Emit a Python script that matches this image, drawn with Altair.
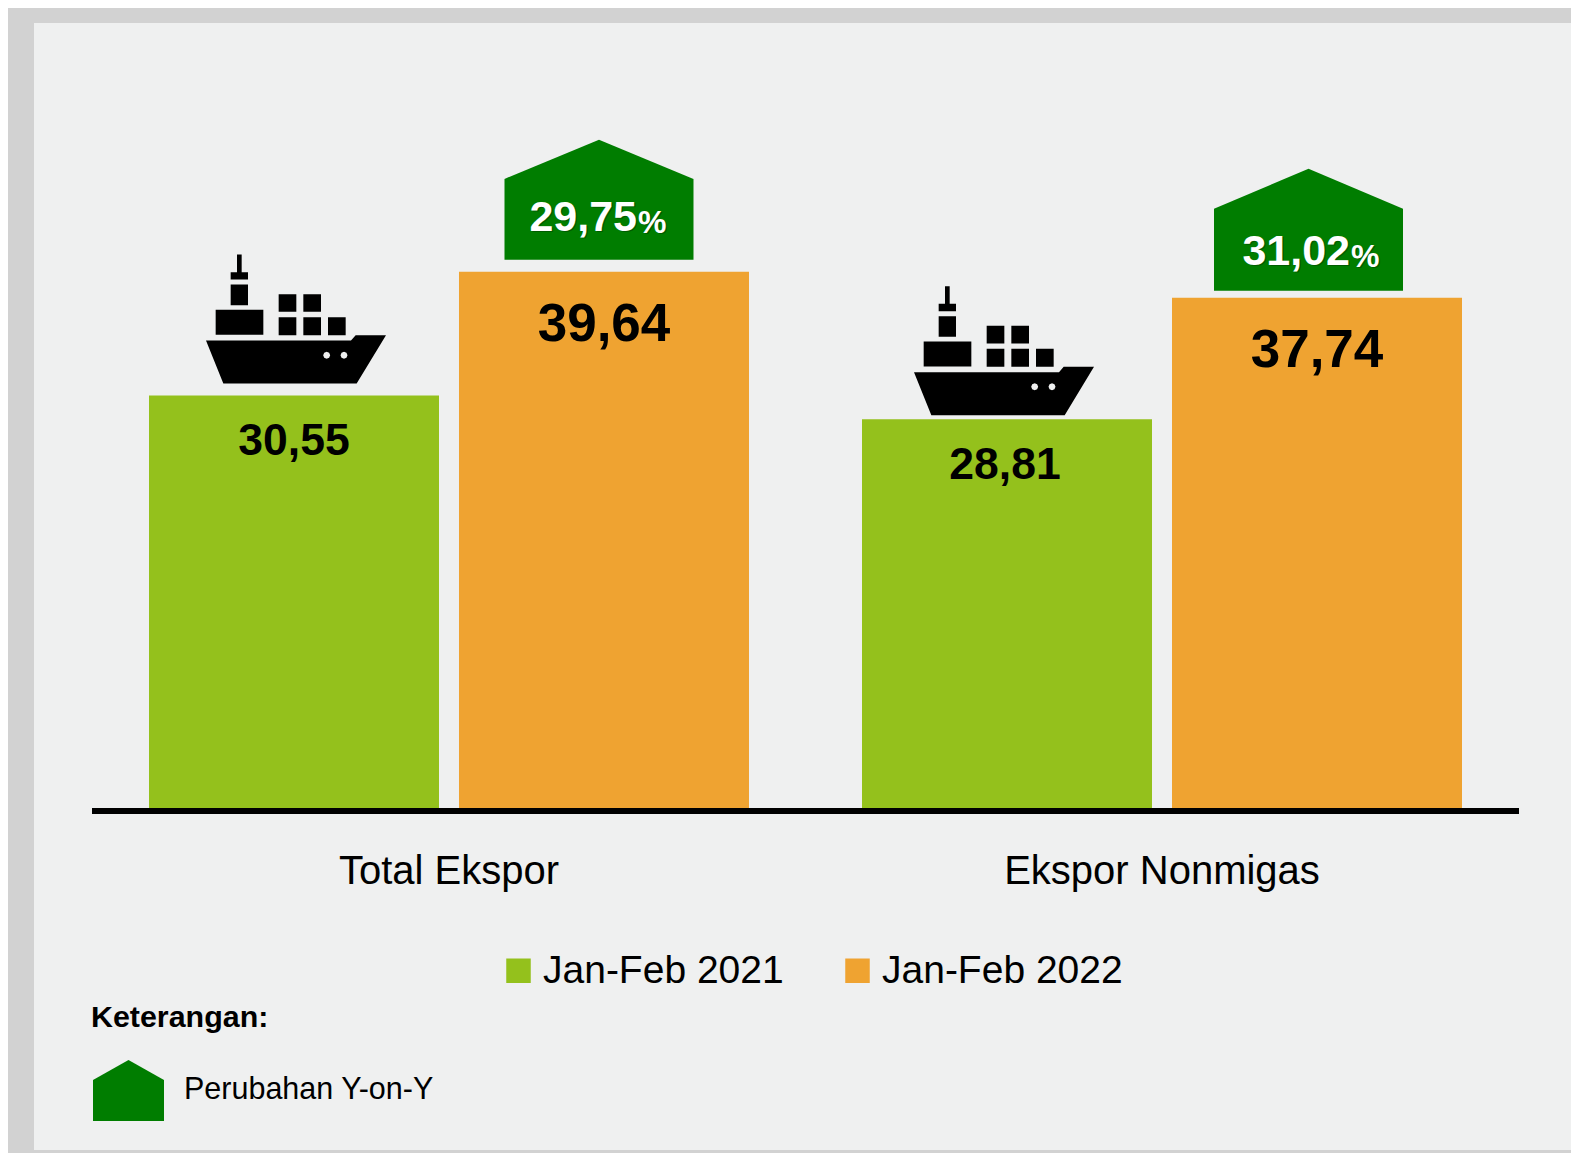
import altair as alt
import pandas as pd

categories = ["Total Ekspor", "Ekspor Nonmigas"]
series = ["Jan-Feb 2021", "Jan-Feb 2022"]
values_2021 = [30.55, 28.81]
values_2022 = [39.64, 37.74]
changes = ["29,75", "31,02"]

FONT = "Liberation Sans"
GREEN, ORANGE, BADGE = "#94C11C", "#EFA331", "#007D00"
PANEL, FRAME = "#EFF0F0", "#D2D2D2"


def fmt(v):
    return f"{v:.2f}".replace(".", ",")


rows = []
for i, c in enumerate(categories):
    rows.append({"cat": c, "series": series[0], "value": values_2021[i], "label": fmt(values_2021[i])})
    rows.append({"cat": c, "series": series[1], "value": values_2022[i], "label": fmt(values_2022[i])})
df = pd.DataFrame(rows)

PW, PH = 1537, 1127
x_enc = alt.X("cat:N", title=None, sort=categories,
              scale=alt.Scale(domain=categories, range=[115, 1428], paddingInner=0.1585, paddingOuter=0),
              axis=alt.Axis(orient="bottom", offset=-337, domain=False, ticks=False, labelAngle=0,
                            labelFont=FONT, labelFontSize=40, labelColor="#000000", labelPadding=38,
                            labelLimit=500, grid=False))
xo_enc = alt.XOffset("series:N", sort=series,
                     scale=alt.Scale(domain=series, paddingInner=0.0645, paddingOuter=0))
y_enc = alt.Y("value:Q", title=None, axis=None,
              scale=alt.Scale(domain=[-24.93, 57.94], nice=False, zero=False))


def poly(points):
    return "M" + " L".join(f"{x:.4f},{y:.4f}" for x, y in points) + " Z"


def ship_path(dx, gap):
    cx, by, unit = 348, 432, 90.0

    def p(zx, zy):
        return ((zx - cx) / 3 + dx) / unit, ((zy - by) / 3 - gap) / unit

    def rect(a, b, c, d):
        return poly([p(a, b), p(c, b), p(c, d), p(a, d)])

    hull = poly([p(78, 303), p(513, 303), p(527, 287), p(618, 287), p(530, 432), p(130, 432)])
    parts = [hull]
    for hx in (440, 492):
        r, k = 10.5, 7.4
        parts.append(poly([p(hx + r, 347), p(hx + k, 347 - k), p(hx, 347 - r), p(hx - k, 347 - k),
                           p(hx - r, 347), p(hx - k, 347 + k), p(hx, 347 + r), p(hx + k, 347 + k)]))
    for box in [(296, 164, 349, 217), (370, 164, 423, 217), (296, 233, 349, 287), (370, 233, 423, 287),
                (444, 233, 497, 287), (107, 211, 250, 286), (152, 135, 204, 197), (152, 98, 204, 120),
                (171, 45, 185, 100)]:
        parts.append(rect(*box))
    return " ".join(parts)


def badge_path(dx, gap, body, roof):
    u = 94.5
    l, r = (dx - u) / u, (dx + u) / u
    return poly([(l, -(gap + body) / u), (dx / u, -(gap + body + roof) / u), (r, -(gap + body) / u),
                 (r, -gap / u), (l, -gap / u)])


bars = alt.Chart(df).mark_bar(stroke=None).encode(
    x=x_enc, xOffset=xo_enc, y=y_enc,
    color=alt.Color("series:N", sort=series, title=None,
                    scale=alt.Scale(domain=series, range=[GREEN, ORANGE]),
                    legend=alt.Legend(orient="none", legendX=465, legendY=928, columns=2, symbolType="square",
                                      symbolSize=600, symbolStrokeWidth=0, labelFont=FONT, labelFontSize=39,
                                      labelColor="#000000", labelLimit=400, columnPadding=54, labelOffset=5,
                                      padding=0, title=None)),
)

layers = [bars]
ship_geo = [(2, 12), (-3, 4)]
badge_geo = [(-5, 12, 81, 39), (-8.5, 7, 82, 40)]
val_dy = {(0, 0): 47, (0, 1): 53, (1, 0): 47, (1, 1): 53}
chg_dy = [-54, -46]

for i, c in enumerate(categories):
    d0 = df[(df.cat == c) & (df.series == series[0])]
    d1 = df[(df.cat == c) & (df.series == series[1])].assign(change=changes[i], pct="%")
    layers.append(alt.Chart(d0).mark_point(shape=ship_path(*ship_geo[i]), size=32400, filled=True, opacity=1,
                                           color="#000000", strokeWidth=0)
                  .encode(x=x_enc, xOffset=xo_enc, y=y_enc))
    layers.append(alt.Chart(d1).mark_point(shape=badge_path(*badge_geo[i]), size=35721, filled=True, opacity=1,
                                           color=BADGE, strokeWidth=0)
                  .encode(x=x_enc, xOffset=xo_enc, y=y_enc))
    layers.append(alt.Chart(d0).mark_text(font=FONT, fontWeight="bold", fontSize=44.5, color="#000000",
                                          dy=val_dy[(i, 0)], baseline="middle", dx=-2 if i else 0)
                  .encode(x=x_enc, xOffset=xo_enc, y=y_enc, text="label:N"))
    layers.append(alt.Chart(d1).mark_text(font=FONT, fontWeight="bold", fontSize=53, color="#000000",
                                          dy=val_dy[(i, 1)], baseline="middle")
                  .encode(x=x_enc, xOffset=xo_enc, y=y_enc, text="label:N"))
    for col, off in (("#00480099", 1.5), ("#FFFFFF", 0)):
        layers.append(alt.Chart(d1).mark_text(font=FONT, fontWeight="bold", fontSize=43, color=col, align="right",
                                              baseline="middle", dx=33 + off, dy=chg_dy[i] + off)
                      .encode(x=x_enc, xOffset=xo_enc, y=y_enc, text="change:N"))
        layers.append(alt.Chart(d1).mark_text(font=FONT, fontWeight="bold", fontSize=32, color=col, align="left",
                                              baseline="middle", dx=34 + off, dy=chg_dy[i] + 5 + off)
                      .encode(x=x_enc, xOffset=xo_enc, y=y_enc, text="pct:N"))

base_df = pd.DataFrame({"value": [0]})
layers.append(alt.Chart(base_df).mark_rule(color="#000000", strokeWidth=6).encode(
    x=alt.value(58), x2=alt.value(1485), y=alt.Y("value:Q", title=None, axis=None,
                                                  scale=alt.Scale(domain=[-24.93, 57.94], nice=False, zero=False))))

note_df = pd.DataFrame({"title": ["Keterangan:"], "item": ["Perubahan Y-on-Y"]})
layers.append(alt.Chart(note_df).mark_text(font=FONT, fontWeight="bold", fontSize=30.4, color="#000000", align="left",
                                           baseline="middle").encode(
    x=alt.value(57), y=alt.value(995), text="title:N"))
layers.append(alt.Chart(note_df).mark_text(font=FONT, fontSize=30.5, color="#000000", align="left",
                                           baseline="middle").encode(
    x=alt.value(150), y=alt.value(1067), text="item:N"))
lu = 35.5
layers.append(alt.Chart(note_df).mark_point(
    shape=poly([(-1, -10 / lu), (0, -30 / lu), (1, -10 / lu), (1, 31 / lu), (-1, 31 / lu)]),
    size=(2 * lu) ** 2, filled=True, opacity=1, color=BADGE, strokeWidth=0).encode(
    x=alt.value(94.5), y=alt.value(1067)))

chart = alt.layer(*layers).properties(
    width=PW, height=PH,
    background=FRAME,
    padding={"left": 26, "top": 15, "right": 0, "bottom": 3},
    autosize=alt.AutoSizeParams(type="none", contains="content"),
).configure_view(fill=PANEL, stroke=None)

chart.save("out.html", embed_options={"renderer": "svg", "actions": False})
